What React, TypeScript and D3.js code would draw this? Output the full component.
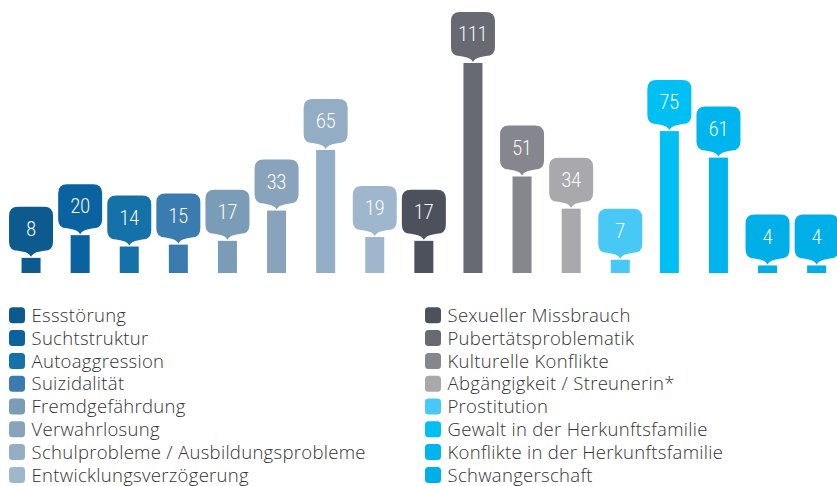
import React from "react";
import * as d3 from "d3";

const values = [8, 20, 14, 15, 17, 33, 65, 19, 17, 111, 51, 34, 7, 75, 61, 4, 4];
const barColors = [
  "#0d5a8e", "#0a63a0", "#1572a8", "#3a7bb0", "#7b9cb6", "#88a3bb", "#93adc4", "#9fb7cc",
  "#4d515c", "#676a73", "#85868e", "#a8a8ad", "#48c8f5", "#00bff2", "#00b5ed", "#00aee8", "#00aee8",
];
const legendLabels = [
  "Essstörung", "Suchtstruktur", "Autoaggression", "Suizidalität", "Fremdgefährdung",
  "Verwahrlosung", "Schulprobleme / Ausbildungsprobleme", "Entwicklungsverzögerung",
  "Sexueller Missbrauch", "Pubertätsproblematik", "Kulturelle Konflikte",
  "Abgängigkeit / Streunerin*", "Prostitution", "Gewalt in der Herkunftsfamilie",
  "Konflikte in der Herkunftsfamilie", "Schwangerschaft",
];
const legendColors = barColors.slice(0, 16);

const W = 837, H = 486;

function boxPath(cx: number, tip: number) {
  const w = 44, h = 44, r = 9, ph = 6;
  const x0 = cx - w / 2, x1 = cx + w / 2;
  const bottom = tip - ph, top = bottom - h;
  return [
    `M${x0 + r},${top}`,
    `H${x1 - r}`,
    `Q${x1},${top} ${x1},${top + r}`,
    `V${bottom - r}`,
    `Q${x1},${bottom} ${x1 - r},${bottom}`,
    `L${cx + 8},${bottom + 1}`,
    `Q${cx + 2},${bottom + 2} ${cx},${tip}`,
    `Q${cx - 2},${bottom + 2} ${cx - 8},${bottom + 1}`,
    `L${x0 + r},${bottom}`,
    `Q${x0},${bottom} ${x0},${bottom - r}`,
    `V${top + r}`,
    `Q${x0},${top} ${x0 + r},${top}`,
    "Z",
  ].join(" ");
}

export default function App() {
  const idx = values.map((_, i) => String(i));
  const x = d3.scaleBand().domain(idx).range([6.5, 6.5 + 17 * 49.1]).paddingInner(0);
  const y = d3.scaleLinear().domain([0, 111]).range([273, 63]);
  const bw = 19;
  const rowStep = 22.8;
  return (
    <svg width={W} height={H} style={{ position: "fixed", left: 0, top: 0, background: "#fff" }}>
      {values.map((v, i) => {
        const cx = (x(String(i)) as number) + x.bandwidth() / 2;
        const top = y(v);
        const ty = top - 1 - 6 - 22;
        return (
          <g key={i}>
            <rect x={cx - bw / 2} y={top} width={bw} height={y(0) - top} fill={barColors[i]} />
            <path d={boxPath(cx, top - 1)} fill={barColors[i]} />
            <text
              transform={`translate(${cx},${ty}) scale(0.88,1)`}
              dy="0.36em"
              textAnchor="middle"
              fill="#fff"
              fontFamily="Roboto"
              fontWeight={300}
              fontSize={20}
            >
              {v}
            </text>
          </g>
        );
      })}
      {legendLabels.map((lab, i) => {
        const col = Math.floor(i / 8);
        const row = i % 8;
        const sx = col === 0 ? 9 : 425;
        const cy = 315.3 + row * rowStep;
        return (
          <g key={lab}>
            <rect x={sx} y={cy - 8} width={16} height={16} rx={3.5} fill={legendColors[i]} />
            <text
              x={sx + 22.5}
              y={cy}
              dy="0.36em"
              fill="#333"
              fontFamily="Open Sans"
              fontWeight={300}
              fontSize={18.5}
              letterSpacing={0.3}
            >
              {lab}
            </text>
          </g>
        );
      })}
    </svg>
  );
}
